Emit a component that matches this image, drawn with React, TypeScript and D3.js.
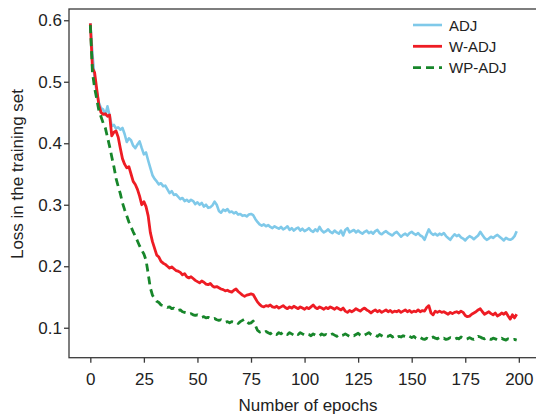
import React, { useEffect, useRef } from "react";
import * as d3 from "d3";

// loss per epoch (0..199)
const adj = [
  0.595, 0.545, 0.505, 0.483, 0.466, 0.457, 0.455, 0.446, 0.46, 0.445,
  0.428, 0.43, 0.424, 0.426, 0.422, 0.425, 0.415, 0.402, 0.408, 0.405,
  0.396, 0.392, 0.398, 0.403, 0.392, 0.382, 0.385, 0.372, 0.36, 0.348,
  0.342, 0.338, 0.333, 0.335, 0.33, 0.331, 0.325, 0.319, 0.322, 0.316,
  0.317, 0.313, 0.309, 0.311, 0.306, 0.308, 0.305, 0.308, 0.306, 0.301,
  0.304, 0.3, 0.303, 0.297, 0.3, 0.295, 0.296, 0.299, 0.305, 0.3,
  0.29, 0.287, 0.292, 0.29, 0.293, 0.288, 0.289, 0.286, 0.288, 0.284,
  0.285, 0.282, 0.283, 0.281, 0.284, 0.285, 0.283, 0.277, 0.272, 0.268,
  0.266, 0.268, 0.265, 0.267, 0.264, 0.262, 0.265, 0.263, 0.261, 0.264,
  0.26, 0.262, 0.265, 0.259, 0.262, 0.258, 0.261, 0.263, 0.258, 0.261,
  0.257, 0.259, 0.262, 0.258, 0.256, 0.26, 0.257, 0.264, 0.258, 0.255,
  0.257, 0.26, 0.256, 0.254, 0.258, 0.255, 0.253, 0.258, 0.25, 0.259,
  0.262, 0.255, 0.257, 0.259, 0.255, 0.258, 0.255, 0.253, 0.256, 0.258,
  0.254, 0.256, 0.253, 0.257, 0.259, 0.254, 0.252, 0.255, 0.257, 0.254,
  0.252, 0.25, 0.254, 0.256, 0.252, 0.248, 0.251, 0.253, 0.25, 0.254,
  0.256, 0.253, 0.251, 0.254, 0.25, 0.248, 0.243, 0.252, 0.26, 0.254,
  0.251, 0.253, 0.25, 0.253, 0.251, 0.254, 0.249, 0.246, 0.243, 0.248,
  0.252, 0.249, 0.251, 0.247, 0.245, 0.242, 0.246, 0.249, 0.247, 0.244,
  0.247, 0.25, 0.256, 0.251, 0.246, 0.243, 0.245, 0.248, 0.246, 0.249,
  0.251, 0.248, 0.245, 0.242, 0.246, 0.244, 0.243, 0.245, 0.249, 0.257,
];

const wAdj = [
  0.595, 0.522, 0.515, 0.488, 0.462, 0.45, 0.447, 0.448, 0.444, 0.446,
  0.412, 0.418, 0.42, 0.41, 0.392, 0.375, 0.366, 0.36, 0.362, 0.35,
  0.338, 0.333, 0.325, 0.314, 0.3, 0.305, 0.297, 0.282, 0.255, 0.24,
  0.229, 0.218, 0.215, 0.208, 0.205, 0.203, 0.2, 0.197, 0.199, 0.196,
  0.193, 0.192, 0.19, 0.186, 0.188, 0.183, 0.181, 0.183, 0.18, 0.177,
  0.175, 0.173, 0.176, 0.174, 0.171, 0.17, 0.172, 0.168, 0.166, 0.167,
  0.165, 0.163, 0.162, 0.16, 0.161, 0.159, 0.158, 0.161, 0.163, 0.159,
  0.156, 0.153, 0.151, 0.153, 0.154, 0.155, 0.154, 0.148, 0.142, 0.138,
  0.135, 0.134, 0.136, 0.135, 0.137, 0.134, 0.133, 0.135, 0.132, 0.134,
  0.136, 0.133, 0.131, 0.134, 0.132, 0.135, 0.133, 0.131, 0.134, 0.132,
  0.13, 0.133, 0.131, 0.134, 0.137, 0.133, 0.131, 0.134, 0.132, 0.13,
  0.133, 0.131, 0.134, 0.132, 0.13, 0.133, 0.131, 0.129, 0.132, 0.127,
  0.125, 0.128, 0.126, 0.128, 0.131, 0.129, 0.127, 0.13, 0.132, 0.129,
  0.127, 0.124, 0.127, 0.129, 0.126, 0.128, 0.125, 0.127, 0.129, 0.126,
  0.128, 0.125, 0.127, 0.126, 0.128, 0.125, 0.127, 0.129, 0.126, 0.128,
  0.125, 0.127, 0.126, 0.129, 0.126, 0.128, 0.127, 0.133, 0.136, 0.124,
  0.121, 0.127, 0.125, 0.127, 0.125, 0.126, 0.124, 0.122, 0.125, 0.123,
  0.125, 0.126, 0.124, 0.127, 0.125, 0.12, 0.118, 0.119, 0.122, 0.124,
  0.126, 0.129, 0.131, 0.126, 0.122, 0.124, 0.126, 0.123, 0.121, 0.124,
  0.119, 0.121, 0.124, 0.122, 0.125, 0.119, 0.114, 0.121, 0.116, 0.122,
];

const wpAdj = [
  0.592, 0.515, 0.49, 0.472, 0.453, 0.443, 0.433, 0.425, 0.41, 0.395,
  0.378, 0.362, 0.343, 0.33, 0.318, 0.303, 0.292, 0.282, 0.272, 0.264,
  0.256, 0.249, 0.241, 0.233, 0.226, 0.22, 0.21, 0.188, 0.165, 0.153,
  0.147, 0.143, 0.141, 0.137, 0.136, 0.135, 0.133, 0.134, 0.131, 0.132,
  0.129, 0.128, 0.129, 0.126, 0.125, 0.124, 0.122, 0.123, 0.121, 0.12,
  0.121, 0.119, 0.117, 0.118, 0.116, 0.117, 0.115, 0.114, 0.115, 0.113,
  0.112, 0.113, 0.111, 0.109, 0.11, 0.108, 0.11, 0.109, 0.11, 0.107,
  0.11, 0.112, 0.114, 0.11, 0.107, 0.108, 0.111, 0.104, 0.096, 0.093,
  0.094, 0.092, 0.094, 0.092, 0.09, 0.093, 0.091, 0.089, 0.092, 0.09,
  0.093, 0.091, 0.089, 0.092, 0.09, 0.088, 0.091, 0.089, 0.092, 0.09,
  0.088, 0.09, 0.089, 0.087, 0.09, 0.088, 0.089, 0.087, 0.09, 0.088,
  0.089, 0.087, 0.088, 0.09, 0.088, 0.086, 0.089, 0.087, 0.088, 0.09,
  0.088, 0.086, 0.088, 0.087, 0.089, 0.091, 0.088, 0.086, 0.088, 0.09,
  0.092, 0.089, 0.087, 0.088, 0.086, 0.089, 0.087, 0.085, 0.087, 0.086,
  0.088, 0.085, 0.087, 0.084, 0.086, 0.085, 0.087, 0.086, 0.088, 0.086,
  0.084, 0.086, 0.083, 0.082, 0.084, 0.082, 0.081, 0.083, 0.081, 0.084,
  0.085, 0.083, 0.082, 0.084, 0.082, 0.083, 0.081, 0.082, 0.084, 0.083,
  0.081, 0.083, 0.082, 0.085, 0.083, 0.081, 0.082, 0.084, 0.082, 0.081,
  0.083, 0.086, 0.085, 0.083, 0.082, 0.084, 0.082, 0.081, 0.083, 0.082,
  0.08, 0.081, 0.083, 0.081, 0.08, 0.082, 0.081, 0.08, 0.081, 0.08,
];

const seriesNames = ["ADJ", "W-ADJ", "WP-ADJ"];
const xTicks = [0, 25, 50, 75, 100, 125, 150, 175, 200];
const yTicks = [0.1, 0.2, 0.3, 0.4, 0.5, 0.6];

const W = 536;
const H = 418;
const FONT = "'Liberation Sans', Arial, Helvetica, sans-serif";

const App = () => {
  const svgRef = useRef<SVGSVGElement>(null);

  useEffect(() => {
    const svg = d3.select(svgRef.current);
    svg.selectAll("*").remove();

    const left = 69;
    const right = 538;
    const top = 9;
    const bottom = 357.7;

    const x = d3.scaleLinear().domain([-9.95, 208.95]).range([left, right]);
    const y = d3.scaleLinear().domain([0.0513, 0.6183]).range([bottom, top]);

    const styles = [
      { color: "#7fc9e9", dash: null, width: 2.6 },
      { color: "#ee1c24", dash: null, width: 2.8 },
      { color: "#17862a", dash: "8,5", width: 2.8 },
    ];
    const allData = [adj, wAdj, wpAdj];

    const line = d3
      .line<number>()
      .x((d, i) => x(i))
      .y((d) => y(d));

    svg
      .append("defs")
      .append("clipPath")
      .attr("id", "plot-clip")
      .append("rect")
      .attr("x", left)
      .attr("y", top)
      .attr("width", right - left)
      .attr("height", bottom - top);

    const plot = svg.append("g").attr("clip-path", "url(#plot-clip)");
    allData.forEach((data, k) => {
      plot
        .append("path")
        .datum(data)
        .attr("fill", "none")
        .attr("stroke", styles[k].color)
        .attr("stroke-width", styles[k].width)
        .attr("stroke-linejoin", "round")
        .attr("stroke-dasharray", styles[k].dash)
        .attr("d", line);
    });

    // frame
    svg
      .append("rect")
      .attr("x", left)
      .attr("y", top)
      .attr("width", right - left)
      .attr("height", bottom - top)
      .attr("fill", "none")
      .attr("stroke", "#3a3a3a")
      .attr("stroke-width", 1.3);

    const xAxis = svg
      .append("g")
      .attr("transform", `translate(0,${bottom})`)
      .call(d3.axisBottom(x).tickValues(xTicks).tickSize(5).tickSizeOuter(0).tickPadding(10));
    const yAxis = svg
      .append("g")
      .attr("transform", `translate(${left},0)`)
      .call(
        d3
          .axisLeft(y)
          .tickValues(yTicks)
          .tickFormat(d3.format(".1f"))
          .tickSize(5)
          .tickSizeOuter(0)
          .tickPadding(2)
      );

    [xAxis, yAxis].forEach((ax) => {
      ax.select(".domain").remove();
      ax.selectAll("line").attr("stroke", "#3a3a3a").attr("stroke-width", 1.3);
      ax.selectAll("text")
        .attr("fill", "#222")
        .style("font-family", FONT)
        .style("font-size", "17px");
    });

    svg
      .append("text")
      .attr("x", 308)
      .attr("y", 410.5)
      .attr("text-anchor", "middle")
      .attr("fill", "#222")
      .style("font-family", FONT)
      .style("font-size", "17px")
      .text("Number of epochs");

    svg
      .append("text")
      .attr("transform", "translate(23,174) rotate(-90)")
      .attr("text-anchor", "middle")
      .attr("fill", "#222")
      .style("font-family", FONT)
      .style("font-size", "17px")
      .text("Loss in the training set");

    // legend
    const legend = svg.append("g");
    seriesNames.forEach((name, k) => {
      const cy = 25 + k * 21.3;
      legend
        .append("line")
        .attr("x1", 413)
        .attr("x2", 442)
        .attr("y1", cy)
        .attr("y2", cy)
        .attr("stroke", styles[k].color)
        .attr("stroke-width", styles[k].width)
        .attr("stroke-dasharray", styles[k].dash);
      legend
        .append("text")
        .attr("x", 449)
        .attr("y", cy + 5.5)
        .attr("fill", "#222")
        .style("font-family", FONT)
        .style("font-size", "15px")
        .text(name);
    });
  }, []);

  return (
    <svg
      ref={svgRef}
      width={W}
      height={H}
      style={{ position: "absolute", left: 0, top: 0, background: "#fff" }}
    />
  );
};

export default App;
